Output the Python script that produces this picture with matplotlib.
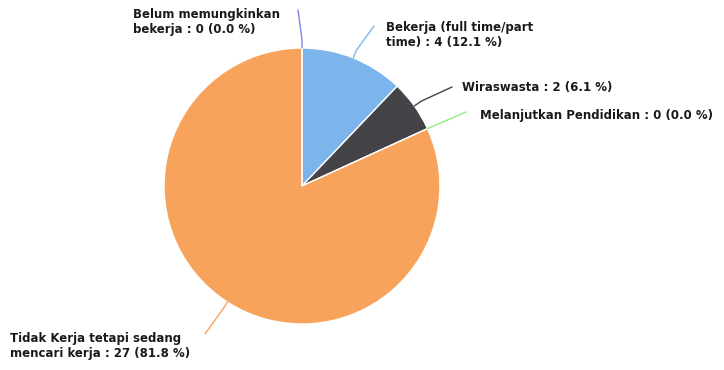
import numpy as np
import matplotlib.pyplot as plt

# data
labels = ['Bekerja (full time/part\ntime)', 'Wiraswasta', 'Melanjutkan Pendidikan',
          'Tidak Kerja tetapi sedang\nmencari kerja', 'Belum memungkinkan\nbekerja']
values = [4, 2, 0, 27, 0]
colors = ['#7cb5ec', '#434348', '#90ed7d', '#f7a35c', '#8085e9']

W, H = 724, 370
fig = plt.figure(figsize=(W / 100, H / 100), dpi=100)
ax = fig.add_axes([0, 0, 1, 1])

cx, cy, r = 302, H - 186, 138
ax.pie(values, colors=colors, startangle=90, counterclock=False,
       center=(cx, cy), radius=r,
       wedgeprops=dict(edgecolor='white', linewidth=1))
ax.set_xlim(0, W)
ax.set_ylim(0, H)
ax.set_aspect('equal')
ax.axis('off')

total = sum(values)
pct = [v / total * 100 for v in values]

# label layout (pixel positions from top-left): text x, text y, elbow point
layout = [
    (386, 35, (374, 26)),
    (462, 87, (452, 87)),
    (480, 115, (466, 112)),
    (10, 346, (205, 334)),
    (133, 22, (298, 10)),
]

ang = 90.0
for lab, v, p, c, (tx, ty, (ex, ey)) in zip(labels, values, pct, colors, layout):
    span = v / total * 360
    mid = np.deg2rad(ang - span / 2)
    ang -= span
    px, py = cx + r * np.cos(mid), cy + r * np.sin(mid)
    qx, qy = cx + (r + 8) * np.cos(mid), cy + (r + 8) * np.sin(mid)
    ax.plot([px, qx, ex], [py, qy, H - ey], color=c, lw=1, solid_capstyle='round')
    ax.text(tx, H - ty, f'{lab} : {v} ({p:.1f} %)', ha='left', va='center',
            fontsize=8.5, fontweight='bold', color='#1a1a1a', linespacing=1.2)

fig.savefig('out.png', dpi=100)
